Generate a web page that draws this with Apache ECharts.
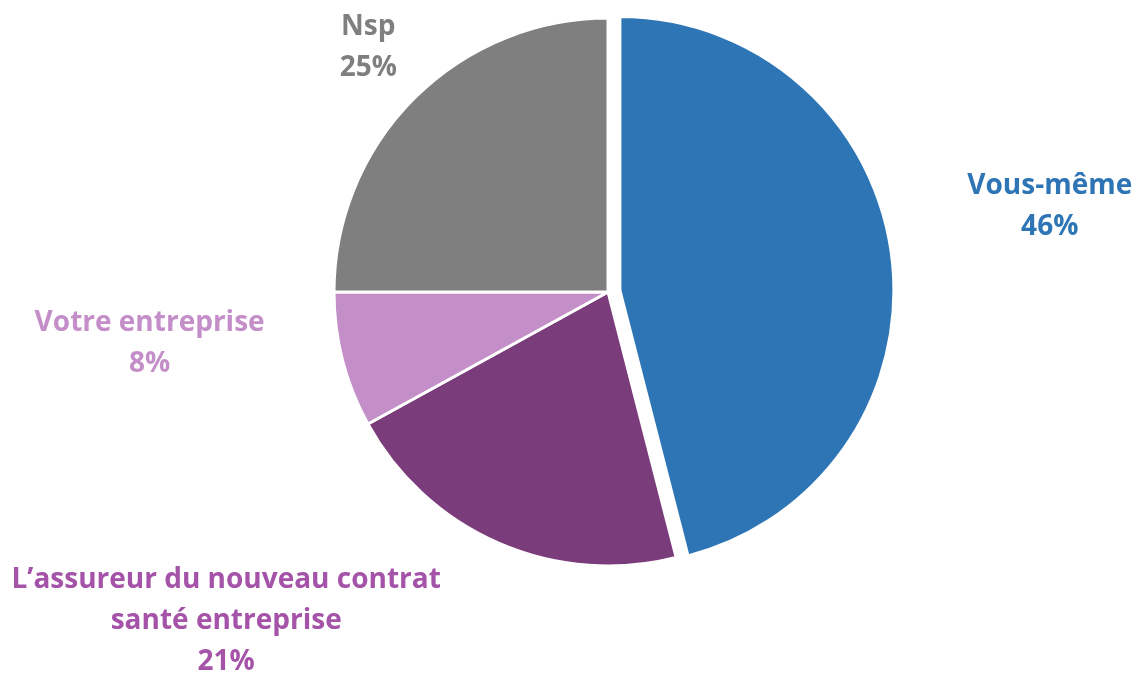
<!DOCTYPE html>
<html>
<head>
<meta charset="utf-8">
<script src="https://cdn.jsdelivr.net/npm/echarts@6/dist/echarts.min.js"></script>
<style>
  html, body { margin: 0; padding: 0; background: #fff; }
  #chart { width: 1140px; height: 675px; }
</style>
</head>
<body>
<div id="chart"></div>
<script>
// ---- data ----
const categories = ['Vous-même', 'L’assureur du nouveau contrat santé entreprise', 'Votre entreprise', 'Nsp'];
const labelLines = ['Vous-même', 'L’assureur du nouveau contrat\nsanté entreprise', 'Votre entreprise', 'Nsp'];
const values = [46, 21, 8, 25];

// ---- styles ----
const sliceColors = ['#2E75B6', '#7B3C7B', '#C48EC8', '#7F7F7F'];
const textColors = ['#2E75B6', '#A453A8', '#C48EC8', '#7F7F7F'];
const labelNudges = [[158, -50], [-273, 78], [-193, -17], [-46, -51]];

const chart = echarts.init(document.getElementById('chart'), null, { renderer: 'canvas' });

const data = categories.map((c, i) => ({
  name: c,
  value: values[i],
  selected: i === 0,
  itemStyle: { color: sliceColors[i] },
  label: {
    formatter: '{t|' + labelLines[i] + '}\n{t|' + values[i] + '%}',
    rich: { t: { color: textColors[i], align: 'center' } }
  }
}));

chart.setOption({
  animation: false,
  series: [{
    type: 'pie',
    center: [608, 292],
    radius: 274,
    startAngle: 90,
    clockwise: true,
    selectedMode: 'single',
    selectedOffset: 12,
    avoidLabelOverlap: false,
    itemStyle: { borderColor: '#ffffff', borderWidth: 3 },
    select: { itemStyle: { borderColor: '#ffffff', borderWidth: 3 } },
    emphasis: { disabled: true },
    label: {
      show: true,
      position: 'outside',
      distanceToLabelLine: 0,
      overflow: 'none',
      fontFamily: 'Open Sans',
      fontWeight: 'bold',
      fontSize: 28,
      lineHeight: 41,
      rich: {}
    },
    labelLine: { show: false, length: 0, length2: 0 },
    labelLayout: function (params) {
      const n = labelNudges[params.dataIndex];
      return { dx: n[0], dy: n[1], align: 'center', verticalAlign: 'middle' };
    },
    data: data
  }]
});
</script>
</body>
</html>
